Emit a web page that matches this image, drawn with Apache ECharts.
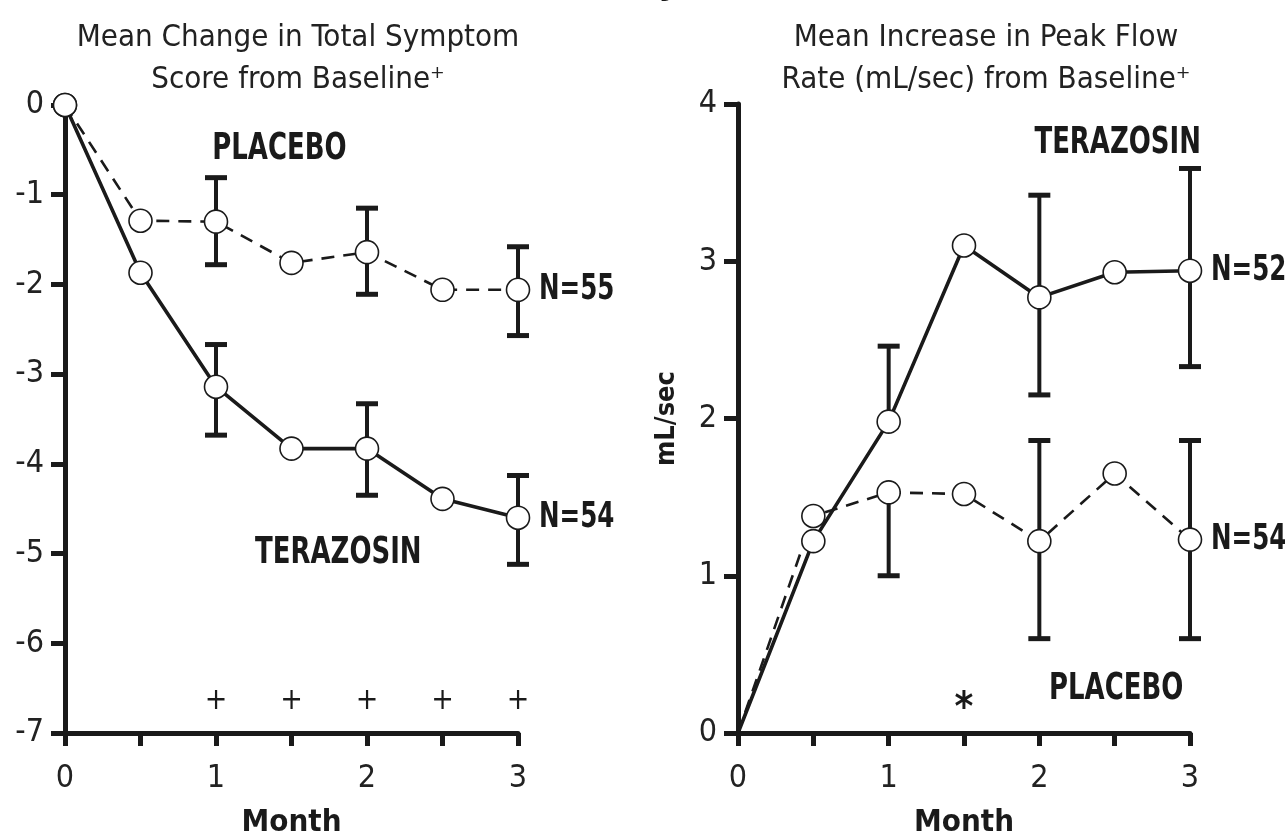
<!DOCTYPE html>
<html>
<head>
<meta charset="utf-8">
<script src="https://cdn.jsdelivr.net/npm/echarts@6/dist/echarts.min.js"></script>
<style>
html,body{margin:0;padding:0;background:#fff;}
#c{width:1285px;height:836px;}
</style>
</head>
<body>
<div id="c"></div>
<script>
// ---- data ----
const months = [0, 0.5, 1, 1.5, 2, 2.5, 3];
const monthTickLabels = ['0', '1', '2', '3'];

// Left: mean change in total symptom score
const symPlacebo   = [0, -1.29, -1.30, -1.76, -1.64, -2.06, -2.06];
const symTerazosin = [0, -1.87, -3.14, -3.83, -3.83, -4.39, -4.60];
const symErrMonths = [1, 2, 3];
const symPlaceboErrLow   = [-1.78, -2.11, -2.57];
const symPlaceboErrHigh  = [-0.81, -1.15, -1.58];
const symTerazosinErrLow  = [-3.68, -4.35, -5.12];
const symTerazosinErrHigh = [-2.67, -3.33, -4.13];
const symSignifMonths = [1, 1.5, 2, 2.5, 3];
const symSignifLevel = -6.65;

// Right: mean increase in peak flow rate
const flowPlacebo   = [0, 1.38, 1.53, 1.52, 1.22, 1.65, 1.23];
const flowTerazosin = [0, 1.22, 1.98, 3.10, 2.77, 2.93, 2.94];
const flowErrMonths = [1, 2, 3];
const flowPlaceboErrLow   = [1.00, 0.60, 0.60];
const flowPlaceboErrHigh  = [null, 1.86, 1.86];
const flowTerazosinErrLow  = [null, 2.15, 2.33];
const flowTerazosinErrHigh = [2.46, 3.42, 3.59];
const flowSignifMonths = [1.5];
const flowSignifLevel = 0.19;

const titles = ['Mean Change in Total Symptom\nScore from Baseline\u207A',
                'Mean Increase in Peak Flow\nRate (mL/sec) from Baseline\u207A'];

// ---- helpers ----
const NARROW = "'Liberation Sans Narrow','DejaVu Sans Condensed','Arial Narrow',sans-serif";
const INK = '#1a1a1a';

function pairs(xs, ys) { return xs.map((x, i) => [x, ys[i]]); }
function errData(xs, lows, highs, means) {
  return xs.map((x, i) => {
    const m = means[months.indexOf(x)];
    return [x, lows[i] == null ? m : lows[i], highs[i] == null ? m : highs[i],
            lows[i] == null ? 0 : 1, highs[i] == null ? 0 : 1];
  });
}
function errSeries(gi, data) {
  return {
    type: 'custom', xAxisIndex: gi, yAxisIndex: gi, z: 1, silent: true,
    renderItem: function (params, api) {
      const x = api.value(0);
      const lo = api.coord([x, api.value(1)]);
      const hi = api.coord([x, api.value(2)]);
      const cap = 11;
      const st = { stroke: INK, lineWidth: 4 };
      const cs = { stroke: INK, lineWidth: 5 };
      const ch = [{ type: 'line', shape: { x1: lo[0], y1: lo[1], x2: hi[0], y2: hi[1] }, style: st }];
      if (api.value(3)) ch.push({ type: 'line', shape: { x1: lo[0] - cap, y1: lo[1], x2: lo[0] + cap, y2: lo[1] }, style: cs });
      if (api.value(4)) ch.push({ type: 'line', shape: { x1: hi[0] - cap, y1: hi[1], x2: hi[0] + cap, y2: hi[1] }, style: cs });
      return { type: 'group', children: ch };
    },
    data: data
  };
}
function lineSeries(gi, ys, dashed, hideFirst) {
  return {
    type: 'line', xAxisIndex: gi, yAxisIndex: gi, z: 3,
    data: pairs(months, ys).map((p, i) => (hideFirst && i === 0) ? { value: p, symbol: 'none' } : p),
    symbol: 'circle', symbolSize: 23,
    itemStyle: { color: '#fff', borderColor: INK, borderWidth: 1.6 },
    lineStyle: { color: INK, width: dashed ? 2.6 : 3.6, type: dashed ? [13, 9] : 'solid' },
    animation: false, silent: true
  };
}
function textSeries(gi, items) {
  return {
    type: 'custom', xAxisIndex: gi, yAxisIndex: gi, z: 5, silent: true,
    data: items.map((t, i) => [t.x, t.y, i]),
    renderItem: function (params, api) {
      const t = items[api.value(2)];
      const c = api.coord([api.value(0), api.value(1)]);
      return {
        type: 'text', x: c[0] + (t.dx || 0), y: c[1] + (t.dy || 0),
        scaleX: t.sx == null ? 0.78 : t.sx,
        style: {
          text: t.text, fill: INK, align: t.align || 'center', verticalAlign: 'middle',
          font: (t.bold === false ? 'normal ' : 'bold ') + (t.size || 37) + 'px ' + NARROW
        }
      };
    }
  };
}
function xAxisCfg(gi) {
  return {
    type: 'value', gridIndex: gi, min: 0, max: 3, interval: 0.5,
    name: 'Month', nameLocation: 'middle', nameGap: 74,
    nameTextStyle: { fontFamily: NARROW, fontWeight: 'bold', fontSize: 31, color: INK },
    axisLine: { onZero: false, lineStyle: { color: INK, width: 5 } },
    axisTick: { length: 13, lineStyle: { color: INK, width: 5 } },
    axisLabel: { fontFamily: NARROW, fontSize: 32, color: '#222', margin: 30,
      formatter: v => Number.isInteger(v) ? monthTickLabels[v] : '' },
    splitLine: { show: false }
  };
}
function yAxisCfg(gi, min, max, name) {
  return {
    type: 'value', gridIndex: gi, min: min, max: max, interval: 1,
    name: name, nameLocation: 'middle', nameGap: 58, nameRotate: 90,
    nameTextStyle: { fontFamily: NARROW, fontWeight: 'bold', fontSize: 27, color: INK },
    axisLine: { show: true, onZero: false, lineStyle: { color: INK, width: 5 } },
    axisTick: { show: true, length: 14, lineStyle: { color: INK, width: 5 } },
    axisLabel: { fontFamily: NARROW, fontSize: 32, color: '#222', margin: 21 },
    splitLine: { show: false }
  };
}

const chart = echarts.init(document.getElementById('c'), null, { renderer: 'canvas' });
chart.setOption({
  animation: false,
  backgroundColor: '#fff',
  title: [
    { text: titles[0], left: 293, top: 12, textAlign: 'center',
      textStyle: { fontFamily: NARROW, fontWeight: 'normal', fontSize: 31, color: '#222', lineHeight: 42 } },
    { text: titles[1], left: 981, top: 12, textAlign: 'center',
      textStyle: { fontFamily: NARROW, fontWeight: 'normal', fontSize: 31, color: '#222', lineHeight: 42 } }
  ],
  graphic: [
    { type: 'text', left: 658, top: -38, silent: true,
      style: { text: 'y', font: 'bold 40px ' + NARROW, fill: INK } }
  ],
  grid: [
    { left: 65, top: 105, width: 453, height: 628, containLabel: false, outerBoundsMode: 'none' },
    { left: 738, top: 104, width: 452, height: 629, containLabel: false, outerBoundsMode: 'none' }
  ],
  xAxis: [xAxisCfg(0), xAxisCfg(1)],
  yAxis: [yAxisCfg(0, -7, 0, ''), yAxisCfg(1, 0, 4, 'mL/sec')],
  series: [
    errSeries(0, errData(symErrMonths, symPlaceboErrLow, symPlaceboErrHigh, symPlacebo)),
    errSeries(0, errData(symErrMonths, symTerazosinErrLow, symTerazosinErrHigh, symTerazosin)),
    lineSeries(0, symPlacebo, true, false),
    lineSeries(0, symTerazosin, false, false),
    errSeries(1, errData(flowErrMonths, flowPlaceboErrLow, flowPlaceboErrHigh, flowPlacebo)),
    errSeries(1, errData(flowErrMonths, flowTerazosinErrLow, flowTerazosinErrHigh, flowTerazosin)),
    lineSeries(1, flowPlacebo, true, true),
    lineSeries(1, flowTerazosin, false, true),
    textSeries(0, [
      { x: 1.42, y: -0.50, text: 'PLACEBO' },
      { x: 1.81, y: -5.00, text: 'TERAZOSIN' },
      { x: 3, y: symPlacebo[6], text: 'N=55', align: 'left', dx: 21, size: 35 },
      { x: 3, y: symTerazosin[6], text: 'N=54', align: 'left', dx: 21, size: 35 }
    ].concat(symSignifMonths.map(m => ({ x: m, y: symSignifLevel, text: '+', bold: false, size: 30, sx: 1 })))),
    textSeries(1, [
      { x: 2.52, y: 3.75, text: 'TERAZOSIN' },
      { x: 2.51, y: 0.28, text: 'PLACEBO' },
      { x: 3, y: flowTerazosin[6], text: 'N=52', align: 'left', dx: 21, size: 35 },
      { x: 3, y: flowPlacebo[6], text: 'N=54', align: 'left', dx: 21, size: 35 }
    ].concat(flowSignifMonths.map(m => ({ x: m, y: flowSignifLevel, text: '*', bold: true, size: 40, sx: 1, dy: 6 }))))
  ]
});
</script>
</body>
</html>
